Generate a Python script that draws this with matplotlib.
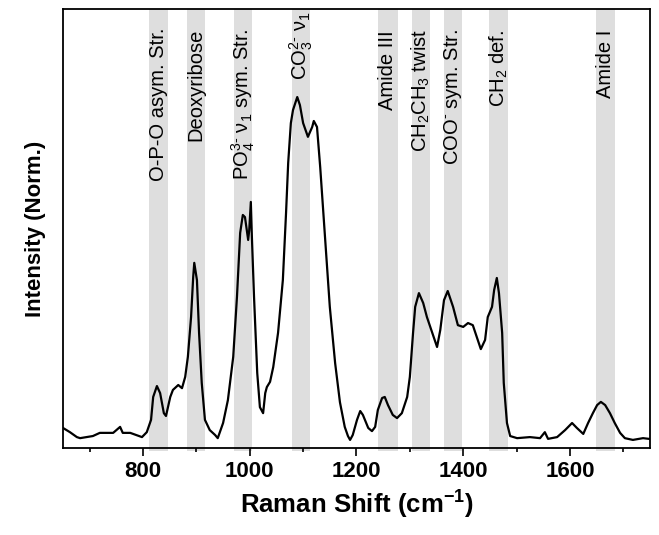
import matplotlib
matplotlib.use("Agg")
import matplotlib.pyplot as plt
import matplotlib.transforms as mtransforms

plt.rcParams['font.family'] = ['Liberation Sans', 'DejaVu Sans']
plt.rcParams['mathtext.fontset'] = 'custom'
plt.rcParams['mathtext.rm'] = 'Liberation Sans'
plt.rcParams['mathtext.it'] = 'Liberation Sans:italic'
plt.rcParams['mathtext.bf'] = 'Liberation Sans:bold'

# Raman spectrum (wavenumber, normalized intensity)
wavenumber = [650, 663, 676, 682, 706, 719, 732, 744, 757, 762, 776, 798, 807, 815, 819,
              826, 832, 839, 843, 851, 856, 866, 873, 879, 884, 890, 894, 896, 901, 905,
              910, 916, 925, 935, 940, 950, 959, 969, 976, 982, 987, 991, 997, 999, 1002,
              1004, 1008, 1014, 1019, 1025, 1029, 1032, 1038, 1044, 1053, 1062, 1068, 1072,
              1077, 1081, 1089, 1094, 1100, 1109, 1117, 1120, 1126, 1132, 1141, 1150, 1160,
              1169, 1178, 1184, 1188, 1193, 1201, 1207, 1212, 1222, 1229, 1235, 1240, 1248,
              1253, 1259, 1268, 1276, 1285, 1295, 1300, 1306, 1310, 1317, 1325, 1332, 1342,
              1351, 1357, 1364, 1371, 1381, 1390, 1400, 1409, 1418, 1426, 1433, 1441, 1446,
              1454, 1458, 1463, 1467, 1473, 1476, 1482, 1488, 1501, 1525, 1544, 1553, 1559,
              1576, 1591, 1604, 1613, 1625, 1634, 1643, 1651, 1658, 1666, 1675, 1684, 1694,
              1703, 1718, 1737, 1748]
intensity = [0.057, 0.045, 0.031, 0.028, 0.034, 0.043, 0.043, 0.043, 0.060, 0.043, 0.043,
             0.031, 0.045, 0.080, 0.145, 0.176, 0.156, 0.099, 0.091, 0.145, 0.165, 0.179,
             0.170, 0.202, 0.259, 0.372, 0.486, 0.526, 0.477, 0.327, 0.185, 0.080, 0.051,
             0.037, 0.028, 0.071, 0.136, 0.259, 0.429, 0.611, 0.662, 0.656, 0.591, 0.619,
             0.699, 0.599, 0.429, 0.213, 0.116, 0.099, 0.156, 0.173, 0.188, 0.230, 0.327,
             0.477, 0.668, 0.810, 0.923, 0.960, 0.997, 0.974, 0.923, 0.884, 0.912, 0.929,
             0.912, 0.798, 0.599, 0.401, 0.241, 0.130, 0.060, 0.034, 0.023, 0.037, 0.080,
             0.105, 0.094, 0.057, 0.048, 0.060, 0.108, 0.142, 0.145, 0.122, 0.094, 0.085,
             0.099, 0.145, 0.202, 0.327, 0.401, 0.440, 0.412, 0.372, 0.327, 0.287, 0.335,
             0.420, 0.446, 0.401, 0.349, 0.344, 0.355, 0.349, 0.313, 0.281, 0.307, 0.372,
             0.401, 0.449, 0.483, 0.440, 0.327, 0.185, 0.071, 0.034, 0.028, 0.031, 0.028,
             0.045, 0.026, 0.031, 0.051, 0.071, 0.057, 0.040, 0.071, 0.099, 0.122, 0.131,
             0.122, 0.099, 0.071, 0.043, 0.028, 0.023, 0.028, 0.026]

# Band assignments
band_labels = ["O-P-O asym. Str.", "Deoxyribose", r"PO$_4^{3\text{-}}$ ν$_1$ sym. Str.",
               r"CO$_3^{2\text{-}}$ ν$_1$", "Amide III", r"CH$_2$CH$_3$ twist",
               r"COO$^{\text{-}}$ sym. Str.", r"CH$_2$ def.", "Amide I"]
band_start = [811, 882, 970, 1080, 1241, 1304, 1364, 1449, 1648]
band_end = [846, 917, 1004, 1113, 1277, 1338, 1398, 1484, 1684]
label_top = [0.957, 0.955, 0.957, 0.995, 0.952, 0.955, 0.955, 0.952, 0.952]

xticks = [800, 1000, 1200, 1400, 1600]
minor_xticks = [700, 900, 1100, 1300, 1500, 1700]

fig = plt.figure(figsize=(6.59, 5.35), dpi=100)
ax = fig.add_axes([0.0956, 0.1626, 0.8907, 0.8205])

trans = mtransforms.blended_transform_factory(ax.transData, ax.transAxes)
for lab, s, e, t in zip(band_labels, band_start, band_end, label_top):
    ax.axvspan(s, e, ymin=-0.007, ymax=1, color='#dedede', lw=0, zorder=0, clip_on=False)
    ax.text((s + e) / 2, t, lab, rotation=90, ha='center', va='top',
            fontsize=14.5, transform=trans, zorder=3)

ax.plot(wavenumber, intensity, color='black', lw=1.6, zorder=2)

ax.set_xlim(650, 1750)
ax.set_ylim(0, 1.247)
ax.set_xticks(xticks)
ax.set_xticks(minor_xticks, minor=True)
ax.set_yticks([])
ax.tick_params(axis='x', which='major', direction='out', length=6, width=1.2,
               labelsize=16)
ax.tick_params(axis='x', which='minor', direction='out', length=3, width=1.2)
for lbl in ax.get_xticklabels():
    lbl.set_fontweight('bold')
for sp in ax.spines.values():
    sp.set_linewidth(1.3)

ax.set_xlabel(r"Raman Shift (cm$^{\mathbf{-1}}$)", fontsize=18.5, fontweight='bold', labelpad=5)
ax.set_ylabel("Intensity (Norm.)", fontsize=16, fontweight='bold', labelpad=12)

fig.savefig("out.png", dpi=100)
